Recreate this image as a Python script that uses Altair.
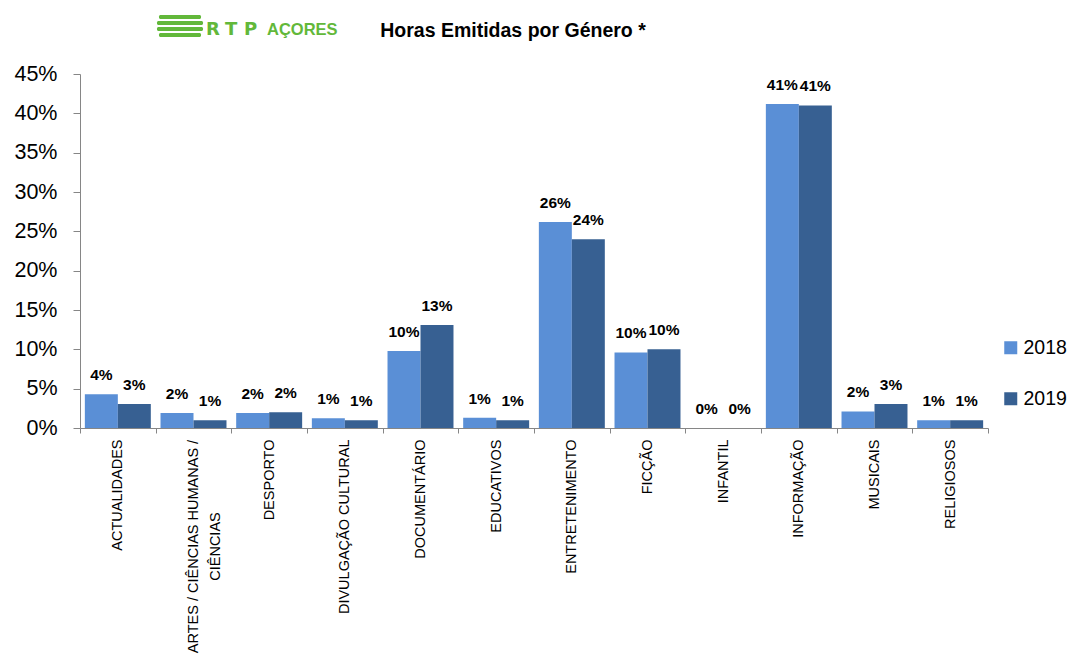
import altair as alt
import pandas as pd

categories = ["ACTUALIDADES", "ARTES / CIÊNCIAS HUMANAS / CIÊNCIAS", "DESPORTO",
              "DIVULGAÇÃO CULTURAL", "DOCUMENTÁRIO", "EDUCATIVOS", "ENTRETENIMENTO",
              "FICÇÃO", "INFANTIL", "INFORMAÇÃO", "MUSICAIS", "RELIGIOSOS"]
v2018 = [0.043, 0.019, 0.019, 0.0125, 0.098, 0.013, 0.262, 0.096, 0.0, 0.412, 0.021, 0.010]
v2019 = [0.0305, 0.010, 0.020, 0.010, 0.131, 0.010, 0.240, 0.100, 0.0, 0.410, 0.0305, 0.010]
years = ["2018", "2019"]
colors = ["#5A8FD6", "#376092"]
y_ticks = [0, 0.05, 0.10, 0.15, 0.20, 0.25, 0.30, 0.35, 0.40, 0.45]
title_text = "Horas Emitidas por Género *"
logo_letters = ["R", "T", "P"]
logo_word = "AÇORES"

FONT = "Liberation Sans, Arial, sans-serif"

rows = []
for c, a, b in zip(categories, v2018, v2019):
    rows.append({"cat": c, "year": years[0], "value": a})
    rows.append({"cat": c, "year": years[1], "value": b})
df = pd.DataFrame(rows)

artes = categories[1]
is_artes = f"datum.value == '{artes}'"
label_expr = (
    f"datum.label == '{artes}' ? ['ARTES / CIÊNCIAS HUMANAS /', 'CIÊNCIAS'] : datum.label"
)

x = alt.X("cat:N", sort=categories,
          scale=alt.Scale(paddingInner=0, paddingOuter=0),
          axis=alt.Axis(title=None, labelAngle=-90,
                        labelAlign={"condition": {"test": is_artes, "value": "center"}, "value": "right"},
                        labelPadding={"condition": {"test": is_artes, "value": 113}, "value": 6},
                        labelBaseline="middle",
                        labelFont=FONT, labelFontSize=14.5, labelColor="#000000",
                        labelLineHeight=22, labelLimit=0,
                        tickBand="extent", tickSize=5, tickColor="#868686",
                        domainColor="#868686", labelExpr=label_expr))
xo = alt.XOffset("year:N", sort=years, scale=alt.Scale(paddingInner=0, paddingOuter=0.147))
y = alt.Y("value:Q", scale=alt.Scale(domain=[0, 0.45], nice=False),
          axis=alt.Axis(title=None, values=y_ticks, format=".0%", labelFont=FONT,
                        labelFontSize=21.5, labelColor="#000000", labelPadding=16,
                        tickSize=7, tickColor="#868686", domainColor="#868686",
                        grid=False))
color = alt.Color("year:N", sort=years,
                  scale=alt.Scale(domain=years, range=colors),
                  legend=alt.Legend(title=None, orient="none", legendX=921, legendY=264,
                                    direction="vertical", symbolType="square",
                                    symbolSize=169, symbolStrokeWidth=0,
                                    labelFont=FONT, labelFontSize=19.5, labelColor="#000000",
                                    rowPadding=30, padding=0, labelOffset=3))

bars = alt.Chart(df).mark_bar().encode(x=x, xOffset=xo, y=y, color=color)
labels = alt.Chart(df).mark_text(baseline="alphabetic", dy=-14, font=FONT,
                                 fontWeight="bold", fontSize=15.5, color="#000000").encode(
    x=x, xOffset=xo, y=y, text=alt.Text("value:Q", format=".0%"))

one = pd.DataFrame({"t": [title_text]})
title = alt.Chart(one).mark_text(font=FONT, fontWeight="bold", fontSize=19.5,
                                 align="center", baseline="alphabetic", color="#000000").encode(
    x=alt.value(433), y=alt.value(-37), text="t:N")

green = "#62B83A"
logo_layers = []
for y0, x0, x1 in [(-59, 79, 121), (-53, 77, 123), (-47, 77, 123), (-41, 79, 121)]:
    logo_layers.append(alt.Chart(one).mark_rect(color=green, cornerRadius=1.5).encode(
        x=alt.value(x0), x2=alt.value(x1), y=alt.value(y0), y2=alt.value(y0 + 4)))
for letter, lx in zip(logo_letters, [126, 145, 164]):
    logo_layers.append(alt.Chart(one).mark_text(
        font="DejaVu Sans", fontWeight="bold", fontSize=18, align="left",
        baseline="alphabetic", color=green).encode(
        x=alt.value(lx), y=alt.value(-39), text=alt.value(letter)))
acores = alt.Chart(one).mark_text(font=FONT, fontWeight="bold", fontSize=16.5,
                                  align="left", baseline="alphabetic", color=green).encode(
    x=alt.value(187), y=alt.value(-39), text=alt.value(logo_word))

chart = alt.layer(bars, labels, title, *logo_layers, acores).properties(
    width=908, height=354,
    autosize=alt.AutoSizeParams(type="none"),
    padding={"left": 72, "top": 66, "right": 82, "bottom": 226},
).configure_view(stroke=None).configure_axis(grid=False)

chart.save("out.html", embed_options={"renderer": "svg", "actions": False})
